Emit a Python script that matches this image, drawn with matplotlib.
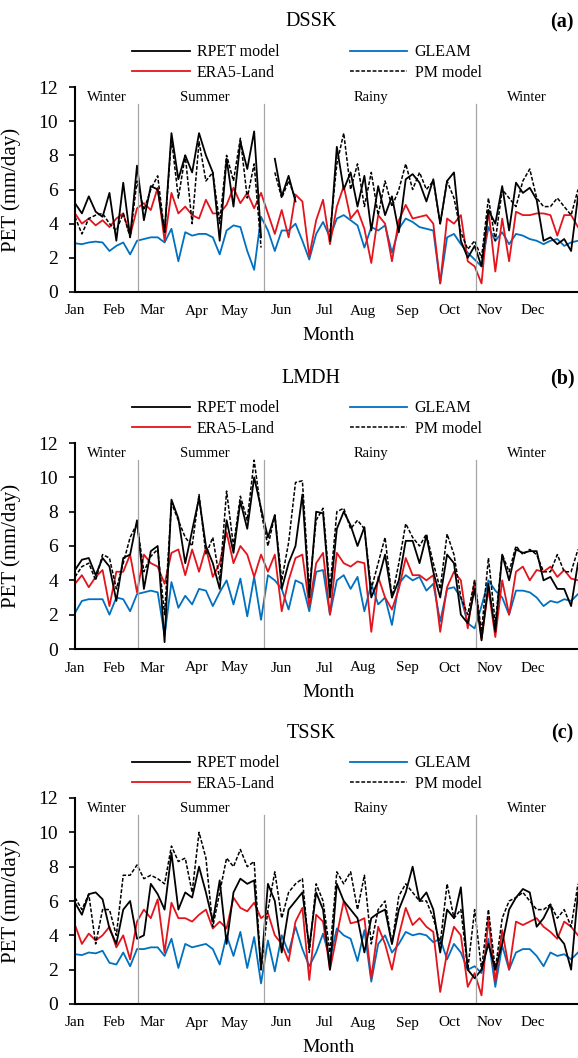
import numpy as np
import matplotlib.pyplot as plt

plt.rcParams['font.family'] = 'Liberation Serif'

W, H = 578, 1058

# one value every 5 days through the year
days = np.arange(0, 366, 5)
nan = np.nan

months = ['Jan', 'Feb', 'Mar', 'Apr', 'May', 'Jun', 'Jul', 'Aug', 'Sep', 'Oct', 'Nov', 'Dec']
month_pos = [0, 28, 56, 88, 116, 150, 181, 209, 241, 272, 301, 332]
seasons = ['Winter', 'Summer', 'Rainy', 'Winter']
season_pos = [23, 94, 215, 328]
season_breaks = [46, 137, 291]

# ---- DSSK
dssk_gleam = [2.85, 2.8, 2.9, 2.95, 2.9, 2.4, 2.7, 2.9, 2.2, 3.0,
              3.1, 3.2, 3.2, 2.9, 3.7, 1.8, 3.5, 3.3, 3.4, 3.4,
              3.2, 2.2, 3.6, 3.9, 3.8, 2.4, 1.3, 4.4, 3.6, 2.4,
              3.6, 3.6, 4.0, 3.0, 1.9, 3.4, 4.1, 3.2, 4.3, 4.5,
              4.2, 3.9, 2.6, 3.8, 3.6, 3.9, 2.3, 3.7, 4.3, 4.1,
              3.8, 3.7, 3.6, 0.5, 3.2, 3.4, 2.8, 2.3, 1.9, 1.5,
              3.8, 3.0, 3.5, 2.8, 3.4, 3.3, 3.1, 3.0, 2.8, 3.0,
              3.1, 2.7, 2.9, 3.0]
dssk_era5 = [4.6, 4.0, 4.3, 3.9, 4.2, 3.8, 4.3, 4.6, 3.3, 4.9,
             5.2, 4.8, 6.1, 3.0, 5.8, 4.6, 5.0, 4.5, 4.3, 5.4,
             4.6, 4.6, 5.1, 6.1, 5.2, 5.8, 4.9, 5.8, 4.6, 3.4,
             4.8, 3.2, 5.7, 5.3, 2.1, 4.2, 5.4, 2.8, 5.0, 6.2,
             4.3, 4.8, 3.7, 1.7, 4.5, 4.0, 1.8, 4.2, 5.1, 4.3,
             4.4, 4.5, 4.0, 0.5, 4.3, 4.0, 4.5, 1.8, 1.5, 0.5,
             4.8, 1.2, 4.3, 1.8, 4.7, 4.5, 4.5, 4.6, 4.6, 4.5,
             3.3, 4.5, 4.5, 3.8]
dssk_rpet = [5.2, 4.6, 5.6, 4.7, 4.4, 5.8, 3.0, 6.4, 3.2, 7.4,
             4.2, 6.2, 6.0, 3.5, 9.3, 6.6, 8.0, 7.0, 9.3, 8.0,
             7.0, 3.0, 7.8, 5.0, 8.8, 7.2, 9.4, 3.2, nan, 7.8,
             5.6, 6.8, 5.3, nan, nan, nan, nan, 3.0, 8.5, 6.0,
             7.0, 5.0, 6.8, 3.6, 6.2, 4.5, 5.6, 3.5, 6.6, 6.9,
             6.4, 5.3, 6.6, 4.0, 6.5, 7.0, 3.0, 2.0, 2.7, 1.5,
             4.8, 4.0, 6.2, 3.6, 6.4, 5.8, 6.1, 5.4, 3.0, 3.2,
             2.8, 3.1, 2.4, 5.6]
dssk_pm = [4.4, 3.4, 4.3, 4.5, 4.6, 4.0, 3.6, 4.6, 3.2, 6.5,
           4.8, 6.0, 6.8, 3.5, 9.0, 5.5, 8.0, 4.0, 8.8, 6.5,
           7.0, 4.0, 8.0, 6.5, 9.0, 5.5, 7.5, 2.6, nan, 7.0,
           5.5, 6.5, 5.5, nan, nan, nan, nan, 3.5, 7.5, 9.3,
           6.0, 7.5, 5.0, 7.0, 4.5, 6.5, 5.0, 6.0, 7.5, 6.0,
           7.0, 6.0, 6.5, 4.0, 6.5, 5.5, 3.5, 2.5, 3.0, 2.0,
           5.5, 3.0, 6.0, 5.5, 5.0, 6.5, 7.2, 5.5, 5.0, 5.0,
           5.5, 5.0, 4.5, 6.0]

# ---- LMDH
lmdh_gleam = [2.1, 2.8, 2.9, 2.9, 2.9, 2.0, 3.0, 2.9, 2.2, 3.2,
              3.3, 3.4, 3.3, 0.8, 3.9, 2.4, 3.1, 2.6, 3.5, 3.4,
              2.5, 3.3, 4.0, 2.6, 4.1, 1.9, 4.2, 1.7, 4.3, 4.0,
              3.5, 2.3, 4.0, 3.8, 2.2, 4.5, 4.6, 2.0, 4.0, 4.3,
              3.5, 4.2, 2.2, 3.8, 2.6, 3.0, 1.4, 3.8, 4.3, 4.0,
              4.2, 3.4, 3.8, 1.6, 3.5, 3.6, 3.0, 1.5, 1.2, 2.5,
              4.0, 3.4, 3.0, 2.0, 3.4, 3.4, 3.3, 3.0, 2.5, 2.8,
              2.7, 2.9, 2.8, 3.2]
lmdh_era5 = [3.8, 4.3, 3.6, 4.2, 4.6, 2.5, 4.5, 4.5, 5.5, 3.3,
             5.5, 5.0, 4.8, 3.8, 5.6, 5.8, 4.3, 5.8, 4.5, 5.9,
             4.2, 5.0, 6.8, 5.0, 6.0, 5.5, 4.2, 5.5, 4.5, 5.5,
             2.2, 4.0, 5.3, 5.5, 2.5, 5.0, 5.6, 2.0, 5.6, 5.0,
             4.8, 5.1, 5.0, 1.0, 4.2, 3.0, 2.3, 3.5, 5.3, 4.3,
             4.3, 4.0, 4.3, 1.0, 3.6, 4.5, 4.0, 1.2, 4.0, 0.6,
             3.5, 0.7, 4.0, 2.0, 4.5, 4.8, 4.0, 4.6, 4.5, 4.8,
             4.2, 4.6, 4.1, 4.0]
lmdh_rpet = [4.6, 5.2, 5.3, 4.3, 5.3, 4.8, 2.8, 5.3, 5.5, 7.5,
             3.5, 5.7, 6.0, 0.4, 8.7, 7.6, 5.0, 6.9, 8.8, 6.0,
             5.0, 3.5, 7.5, 5.6, 8.6, 7.0, 10.0, 8.2, 6.5, 7.8,
             3.5, 5.0, 6.0, 9.0, 3.0, 8.0, 7.9, 3.0, 7.0, 8.0,
             7.2, 6.0, 7.1, 3.0, 4.0, 5.5, 3.0, 4.0, 6.3, 6.3,
             5.0, 6.6, 4.5, 3.0, 5.5, 5.0, 2.0, 1.5, 3.5, 0.5,
             3.8, 1.0, 5.5, 4.0, 5.8, 5.6, 5.7, 5.7, 4.0, 4.2,
             3.5, 3.5, 2.5, 5.0]
lmdh_pm = [4.2, 4.8, 5.0, 4.0, 5.5, 5.3, 3.5, 5.0, 6.5, 7.3,
           4.5, 5.4, 5.8, 2.0, 8.5, 7.5, 6.5, 6.0, 9.0, 5.5,
           6.5, 4.0, 9.2, 6.0, 8.9, 7.5, 11.0, 8.0, 6.0, 7.8,
           4.0, 6.2, 9.7, 9.8, 3.5, 7.5, 8.2, 3.5, 8.0, 8.2,
           7.0, 7.5, 7.0, 3.5, 5.0, 6.5, 3.0, 5.0, 7.3, 6.5,
           6.0, 6.7, 5.0, 3.5, 6.7, 5.5, 3.0, 2.0, 4.0, 1.0,
           5.3, 1.5, 5.5, 4.5, 6.0, 5.5, 5.8, 5.5, 4.5, 4.5,
           5.5, 4.5, 4.5, 5.8]

# ---- TSSK
tssk_gleam = [2.9, 2.85, 3.0, 2.95, 3.1, 2.4, 2.3, 3.0, 2.2, 3.2,
              3.2, 3.3, 3.3, 2.8, 3.8, 2.1, 3.5, 3.3, 3.4, 3.5,
              3.2, 2.3, 4.0, 2.8, 4.2, 2.1, 3.9, 1.2, 3.7, 1.9,
              4.0, 3.0, 4.5, 3.2, 2.2, 3.0, 4.1, 2.6, 4.4, 4.0,
              3.8, 2.5, 4.3, 1.3, 3.5, 4.0, 3.0, 3.5, 4.2, 4.0,
              4.1, 4.0, 3.6, 3.8, 2.6, 3.5, 3.0, 2.0, 2.2, 1.8,
              3.8, 1.0, 3.4, 2.0, 3.0, 3.2, 3.2, 2.8, 2.2, 3.0,
              2.8, 2.9, 2.6, 3.0]
tssk_era5 = [4.6, 3.5, 4.1, 3.7, 4.0, 4.5, 3.3, 4.0, 2.6, 4.8,
             5.5, 5.0, 6.1, 3.0, 5.9, 5.0, 5.0, 4.8, 5.2, 5.5,
             4.4, 4.8, 4.4, 6.2, 5.6, 5.4, 5.9, 5.0, 5.3, 4.0,
             3.5, 2.5, 4.8, 5.6, 1.4, 5.2, 4.8, 2.0, 4.0, 6.0,
             4.7, 4.8, 5.0, 1.5, 4.5, 3.5, 2.0, 4.0, 5.6, 4.6,
             5.0, 4.5, 4.2, 0.7, 3.0, 4.5, 4.0, 1.0, 1.8, 0.5,
             5.0, 1.3, 4.3, 2.0, 4.8, 4.6, 4.8, 5.0, 4.5, 4.2,
             3.8, 4.8, 4.5, 4.0]
tssk_rpet = [5.9, 5.2, 6.4, 6.5, 6.1, 4.4, 3.5, 5.5, 6.0, 3.8,
             4.0, 7.0, 6.4, 5.5, 8.8, 5.5, 6.5, 6.2, 8.0, 6.5,
             4.8, 7.2, 3.5, 6.5, 7.3, 7.0, 7.2, 2.0, 7.0, 6.0,
             3.0, 5.5, 6.0, 6.5, 3.3, 6.5, 5.5, 2.0, 7.0, 6.0,
             5.5, 5.0, 3.0, 5.0, 5.3, 5.5, 3.5, 5.5, 6.5, 8.0,
             6.0, 6.5, 5.5, 3.0, 5.5, 5.0, 6.8, 2.0, 1.5, 2.0,
             3.5, 2.0, 3.5, 5.5, 6.2, 6.7, 6.5, 4.5, 5.0, 5.8,
             4.0, 3.5, 2.0, 6.5]
tssk_pm = [6.2, 5.5, 6.4, 3.5, 5.5, 5.5, 4.0, 7.5, 7.5, 8.1,
           7.3, 7.5, 7.3, 7.0, 9.2, 8.3, 8.5, 6.5, 10.0, 8.5,
           4.5, 6.5, 8.5, 8.0, 9.0, 8.0, 8.3, 2.0, 5.5, 7.7,
           5.0, 6.5, 7.0, 7.3, 3.0, 7.0, 6.0, 3.0, 7.7, 7.0,
           7.7, 5.5, 7.5, 3.5, 5.5, 6.0, 3.5, 6.3, 7.0, 6.5,
           6.0, 6.0, 5.0, 3.5, 7.0, 5.0, 5.5, 2.0, 5.5, 2.0,
           5.5, 2.0, 5.0, 6.0, 6.2, 6.5, 6.0, 5.5, 5.5, 5.8,
           5.0, 5.5, 4.5, 7.0]

fig = plt.figure(figsize=(W / 100, H / 100), dpi=100)


def draw_panel(top, bottom, name, letter, rpet, era5, gleam, pm):
    ax = fig.add_axes([75 / W, 1 - bottom / H, 503 / W, (bottom - top) / H])
    l_gleam, = ax.plot(days, gleam, color='#0070C0', lw=1.3)
    l_era5, = ax.plot(days, era5, color='#E3141C', lw=1.3)
    l_rpet, = ax.plot(days, rpet, color='black', lw=1.3)
    l_pm, = ax.plot(days, pm, color='black', lw=1.1, linestyle=(0, (2.5, 1.2)))

    for b in season_breaks:
        ax.plot([b, b], [0, 11], color='#A6A6A6', lw=0.9)
    for s, p in zip(seasons, season_pos):
        ax.text(p, 11.4, s, ha='center', va='center', fontsize=10.5)

    ax.set_xlim(0, 365)
    ax.set_ylim(0, 12)
    ax.set_yticks(range(0, 13, 2))
    ax.set_xticks(month_pos)
    ax.set_xticklabels(months, fontsize=11)
    ax.tick_params(axis='x', length=0, pad=9)
    ax.tick_params(axis='y', labelsize=14, length=4, width=1.2, pad=8)
    for side in ['top', 'right']:
        ax.spines[side].set_visible(False)
    for side in ['left', 'bottom']:
        ax.spines[side].set_linewidth(1.5)
    ax.set_ylabel('PET (mm/day)', fontsize=15)
    ax.yaxis.set_label_coords((21 - 75) / 503, 0.5)
    ax.set_xlabel('Month', fontsize=14, va='center')
    ax.xaxis.set_label_coords((329 - 75) / 503, -43 / 205)

    title_y = top - 65
    legend_y = top - 24.5
    fig.text(311 / W, 1 - title_y / H, name, ha='center', va='center', fontsize=14.5)
    fig.text(562 / W, 1 - title_y / H, letter, ha='center', va='center', fontsize=14.5, fontweight='bold')
    fig.legend([l_rpet, l_era5, l_gleam, l_pm], ['RPET model', 'ERA5-Land', 'GLEAM', 'PM model'],
               loc='center', bbox_to_anchor=(307 / W, 1 - legend_y / H), ncol=2, frameon=False,
               fontsize=11.5, handlelength=3.6, handletextpad=0.45, columnspacing=4.4, labelspacing=0.3)
    return ax


draw_panel(87, 292, 'DSSK', '(a)', dssk_rpet, dssk_era5, dssk_gleam, dssk_pm)
draw_panel(443, 649, 'LMDH', '(b)', lmdh_rpet, lmdh_era5, lmdh_gleam, lmdh_pm)
draw_panel(798, 1004, 'TSSK', '(c)', tssk_rpet, tssk_era5, tssk_gleam, tssk_pm)

fig.savefig('out.png', dpi=100)
